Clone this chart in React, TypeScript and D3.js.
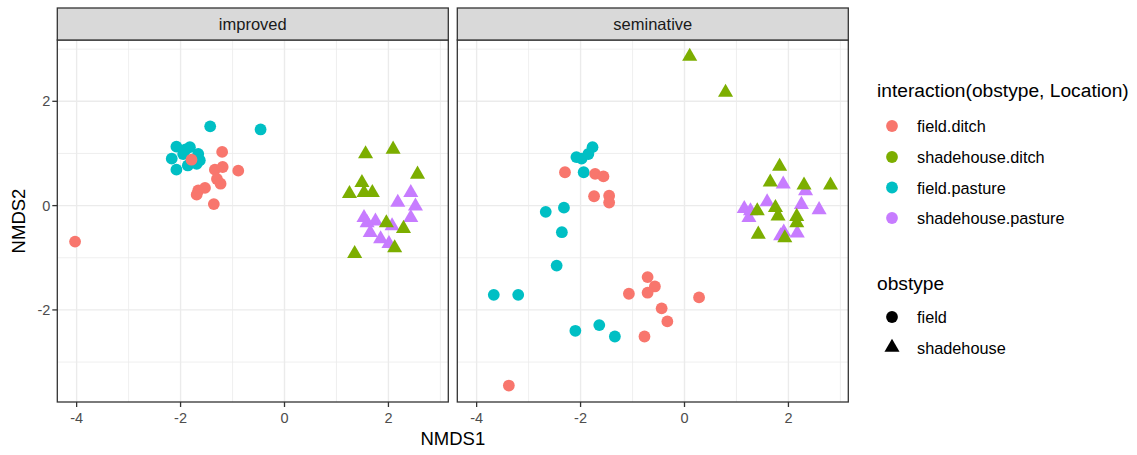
import React from 'react';
import * as d3 from 'd3';

type Pt = [number, number];

const panels = ['improved', 'seminative'];
const groups = ['field.ditch', 'shadehouse.ditch', 'field.pasture', 'shadehouse.pasture'];
const groupColors = ['#F8766D', '#7CAE00', '#00BFC4', '#C77CFF'];
const groupShapes = ['field', 'shadehouse', 'field', 'shadehouse'];
const obstypes = ['field', 'shadehouse'];

// improved
const impFieldDitch: Pt[] = [
    [-4.03, -0.69], [-1.79, 0.88], [-1.2, 1.03], [-0.89, 0.67], [-1.34, 0.69], [-1.19, 0.74],
    [-1.3, 0.51], [-1.23, 0.42], [-1.53, 0.34], [-1.66, 0.29], [-1.69, 0.21], [-1.36, 0.03],
];
const impShadeDitch: Pt[] = [
    [1.56, 0.99], [2.09, 1.08], [2.56, 0.6], [1.49, 0.44], [1.25, 0.23], [1.53, 0.25],
    [1.69, 0.25], [1.96, -0.33], [2.29, -0.44], [2.12, -0.81], [1.35, -0.92],
];
const impFieldPasture: Pt[] = [
    [-2.08, 1.13], [-2.17, 0.9], [-2.08, 0.69], [-1.82, 1.12], [-1.66, 0.99], [-1.69, 0.8],
    [-1.95, 0.99], [-1.86, 0.77], [-1.63, 0.87], [-1.43, 1.52], [-0.46, 1.46], [-1.9, 1.08],
];
const impShadePasture: Pt[] = [
    [2.43, 0.25], [2.18, 0.06], [2.52, -0.01], [2.43, -0.23], [1.53, -0.23], [1.75, -0.3],
    [1.65, -0.52], [2.07, -0.39], [1.85, -0.64], [2.01, -0.73], [1.59, -0.33],
];

// seminative
const semFieldDitch: Pt[] = [
    [-2.3, 0.64], [-1.72, 0.61], [-1.56, 0.56], [-1.74, 0.18], [-1.45, 0.19], [-1.45, 0.06],
    [-1.07, -1.69], [-0.71, -1.37], [-0.57, -1.55], [-0.71, -1.67], [0.28, -1.76], [-0.44, -1.97],
    [-0.33, -2.22], [-0.77, -2.51], [-3.38, -3.45],
];
const semShadeDitch: Pt[] = [
    [0.1, 2.86], [0.79, 2.17], [1.83, 0.75], [1.65, 0.45], [2.3, 0.39], [2.81, 0.39],
    [1.4, -0.1], [1.75, -0.04], [1.8, -0.2], [2.16, -0.21], [2.16, -0.33], [1.42, -0.55], [1.93, -0.62],
];
const semFieldPasture: Pt[] = [
    [-1.77, 1.12], [-2.08, 0.93], [-1.98, 0.9], [-1.85, 0.99], [-1.94, 0.64], [-2.32, -0.04],
    [-2.67, -0.12], [-2.36, -0.51], [-2.46, -1.15], [-3.67, -1.71], [-3.2, -1.71], [-2.1, -2.4],
    [-1.64, -2.29], [-1.34, -2.51],
];
const semShadePasture: Pt[] = [
    [1.9, 0.41], [2.33, 0.28], [1.59, 0.07], [2.25, 0.02], [2.59, -0.08], [1.15, -0.06],
    [1.24, -0.23], [1.91, -0.51], [2.17, -0.53], [1.85, -0.58], [1.27, -0.1],
];

const panelData: Pt[][][] = [
    [impFieldDitch, impShadeDitch, impFieldPasture, impShadePasture],
    [semFieldDitch, semShadeDitch, semFieldPasture, semShadePasture],
];
// drawing order of groups
const drawOrder = [2, 0, 3, 1];

const xTicks = [-4, -2, 0, 2];
const yTicks = [-2, 0, 2];
const xMinor = [-3, -1, 1, 3];
const yMinor = [-3, -1, 1, 3];

const FONT = '"Liberation Sans", Arial, sans-serif';
const PANEL_W = 391;
const PANEL_GAP = 9;
const LEFT = 57.3;
const STRIP_TOP = 8;
const PANEL_TOP = 40;
const PANEL_BOTTOM = 402;
const CIRCLE_R = 5.9;
const TRI_R = 8.7;

const trianglePath = (r: number) =>
    `M0,${-r}L${r * 0.866},${r / 2}L${-r * 0.866},${r / 2}Z`;

const Marker: React.FC<{ shape: string; x: number; y: number; fill: string }> = ({ shape, x, y, fill }) =>
    shape === 'field'
        ? <circle cx={x} cy={y} r={CIRCLE_R} fill={fill} />
        : <path d={trianglePath(TRI_R)} transform={`translate(${x},${y})`} fill={fill} />;

const App: React.FC = () => {
    const all = panelData.flat(2);
    const xExt = d3.extent(all, d => d[0]) as [number, number];
    const yExt = d3.extent(all, d => d[1]) as [number, number];
    const xPad = (xExt[1] - xExt[0]) * 0.05;
    const yPad = (yExt[1] - yExt[0]) * 0.05;

    const yScale = d3.scaleLinear()
        .domain([yExt[0] - yPad, yExt[1] + yPad])
        .range([PANEL_BOTTOM, PANEL_TOP]);

    const legendItems = [126, 157, 187.5, 218];
    const shapeItems = [317, 347.5];

    return (
        <div style={{ position: 'fixed', left: 0, top: 0 }}>
            <svg width={1137} height={455} style={{ display: 'block', background: '#fff', fontFamily: FONT }}>
                {panels.map((name, pi) => {
                    const x0 = LEFT + pi * (PANEL_W + PANEL_GAP);
                    const xScale = d3.scaleLinear()
                        .domain([xExt[0] - xPad, xExt[1] + xPad])
                        .range([x0, x0 + PANEL_W]);
                    const [yLo, yHi] = yScale.domain();
                    const [xLo, xHi] = xScale.domain();
                    return (
                        <g key={name}>
                            <rect x={x0} y={PANEL_TOP} width={PANEL_W} height={PANEL_BOTTOM - PANEL_TOP} fill="#fff" />
                            {xMinor.filter(v => v > xLo && v < xHi).map(v => (
                                <line key={'xm' + v} x1={xScale(v)} x2={xScale(v)} y1={PANEL_TOP} y2={PANEL_BOTTOM} stroke="#EBEBEB" strokeWidth={0.8} />
                            ))}
                            {yMinor.filter(v => v > yLo && v < yHi).map(v => (
                                <line key={'ym' + v} x1={x0} x2={x0 + PANEL_W} y1={yScale(v)} y2={yScale(v)} stroke="#EBEBEB" strokeWidth={0.8} />
                            ))}
                            {xTicks.map(v => (
                                <line key={'xg' + v} x1={xScale(v)} x2={xScale(v)} y1={PANEL_TOP} y2={PANEL_BOTTOM} stroke="#EBEBEB" strokeWidth={1.4} />
                            ))}
                            {yTicks.map(v => (
                                <line key={'yg' + v} x1={x0} x2={x0 + PANEL_W} y1={yScale(v)} y2={yScale(v)} stroke="#EBEBEB" strokeWidth={1.4} />
                            ))}
                            {drawOrder.map(gi => (
                                <g key={'g' + gi}>
                                    {panelData[pi][gi].map((d, i) => (
                                        <Marker key={i} shape={groupShapes[gi]} x={xScale(d[0])} y={yScale(d[1])} fill={groupColors[gi]} />
                                    ))}
                                </g>
                            ))}
                            <rect x={x0} y={PANEL_TOP} width={PANEL_W} height={PANEL_BOTTOM - PANEL_TOP} fill="none" stroke="#333333" strokeWidth={1.3} />
                            <rect x={x0} y={STRIP_TOP} width={PANEL_W} height={PANEL_TOP - STRIP_TOP} fill="#D9D9D9" stroke="#333333" strokeWidth={1.3} />
                            <text x={x0 + PANEL_W / 2} y={(STRIP_TOP + PANEL_TOP) / 2} textAnchor="middle" dominantBaseline="central" fontSize={16.5} fill="#1A1A1A">{name}</text>
                            {xTicks.map(v => (
                                <g key={'xt' + v}>
                                    <line x1={xScale(v)} x2={xScale(v)} y1={PANEL_BOTTOM} y2={PANEL_BOTTOM + 5} stroke="#333333" strokeWidth={1.3} />
                                    <text x={xScale(v)} y={418} textAnchor="middle" dominantBaseline="central" fontSize={14.5} fill="#4D4D4D">{v}</text>
                                </g>
                            ))}
                            {pi === 0 && yTicks.map(v => (
                                <g key={'yt' + v}>
                                    <line x1={x0 - 5} x2={x0} y1={yScale(v)} y2={yScale(v)} stroke="#333333" strokeWidth={1.3} />
                                    <text x={x0 - 7} y={yScale(v)} textAnchor="end" dominantBaseline="central" fontSize={14.5} fill="#4D4D4D">{v}</text>
                                </g>
                            ))}
                        </g>
                    );
                })}
                <text x={LEFT + PANEL_W + PANEL_GAP / 2} y={438} textAnchor="middle" dominantBaseline="central" fontSize={18.5} fill="#000">NMDS1</text>
                <text transform={`translate(18,${(PANEL_TOP + PANEL_BOTTOM) / 2}) rotate(-90)`} textAnchor="middle" dominantBaseline="central" fontSize={18.5} fill="#000">NMDS2</text>

                <text x={877} y={90} dominantBaseline="central" fontSize={19.2} fill="#000">interaction(obstype, Location)</text>
                {groups.map((g, i) => (
                    <g key={g}>
                        <circle cx={892} cy={legendItems[i]} r={CIRCLE_R} fill={groupColors[i]} />
                        <text x={917} y={legendItems[i]} dominantBaseline="central" fontSize={16.3} fill="#000">{g}</text>
                    </g>
                ))}
                <text x={877} y={283} dominantBaseline="central" fontSize={19.2} fill="#000">obstype</text>
                {obstypes.map((o, i) => (
                    <g key={o}>
                        <Marker shape={o} x={892} y={shapeItems[i]} fill="#000" />
                        <text x={917} y={shapeItems[i]} dominantBaseline="central" fontSize={16.3} fill="#000">{o}</text>
                    </g>
                ))}
            </svg>
        </div>
    );
};

export default App;
